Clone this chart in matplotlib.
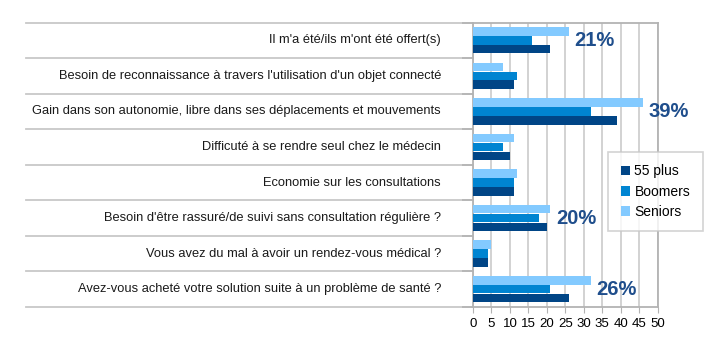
import matplotlib
matplotlib.use("Agg")
import numpy as np
import matplotlib.pyplot as plt

plt.rcParams['font.family'] = ['Liberation Sans', 'DejaVu Sans']

categories = [
    "Il m'a été/ils m'ont été offert(s)",
    "Besoin de reconnaissance à travers l'utilisation d'un objet connecté",
    "Gain dans son autonomie, libre dans ses déplacements et mouvements",
    "Difficuté à se rendre seul chez le médecin",
    "Economie sur les consultations",
    "Besoin d'être rassuré/de suivi sans consultation régulière ?",
    "Vous avez du mal à avoir un rendez-vous médical ?",
    "Avez-vous acheté votre solution suite à un problème de santé ?",
]
plus55 = [21, 11, 39, 10, 11, 20, 4, 26]
boomers = [16, 12, 32, 8, 11, 18, 4, 21]
seniors = [26, 8, 46, 11, 12, 21, 5, 32]
# highlighted percentages (index, label)
highlights = [(0, "21%"), (2, "39%"), (5, "20%"), (7, "26%")]

c55 = '#004586'
cboom = '#0084d1'
csen = '#83caff'
grid_c = '#cfcfcf'
axis_c = '#b3b3b3'

fig = plt.figure(figsize=(7.18, 3.51), dpi=100)
ax = fig.add_axes([473/718, 1-307/351, (657.5-473)/718, (307-22.5)/351])

y = np.arange(len(categories))
h = 0.24
ax.barh(y - 0.25, seniors, height=h, color=csen, label='Seniors', zorder=3)
ax.barh(y, boomers, height=h, color=cboom, label='Boomers', zorder=3)
ax.barh(y + 0.25, plus55, height=h, color=c55, label='55 plus', zorder=3)

ax.set_xlim(0, 50)
ax.set_ylim(len(categories) - 0.5, -0.5)
ax.set_xticks(np.arange(0, 51, 5))
ax.xaxis.grid(True, color=grid_c, lw=1.3, zorder=0)
ax.tick_params(axis='x', labelsize=9.5, length=4, color=axis_c, pad=4)

ax.set_yticks(np.arange(len(categories) + 1) - 0.5)
ax.set_yticklabels([])
ax.tick_params(axis='y', length=8, color=axis_c, width=1.2)

for s in ax.spines.values():
    s.set_color(axis_c)
    s.set_linewidth(1.3)

# category separator lines across the label area
tr = ax.get_yaxis_transform()
x0 = -(473 - 26) / (657.5 - 473)
for b in np.arange(len(categories) + 1) - 0.5:
    ax.plot([x0, 0], [b, b], transform=tr, color='#c8c8c8', lw=1.3, clip_on=False, zorder=1)

# category labels
for i, lab in enumerate(categories):
    ax.text(-(473 - 441) / (657.5 - 473), i, lab, transform=tr, ha='right', va='center',
            fontsize=9.3, color='#1a1a1a')

# highlighted values
for i, lab in highlights:
    top = max(plus55[i], boomers[i], seniors[i])
    ax.text(top + 1.5, i, lab, ha='left', va='center', fontsize=14.5,
            fontweight='bold', color='#1f4e8c', zorder=4)

handles, labels = ax.get_legend_handles_labels()
leg = fig.legend(handles[::-1], labels[::-1], loc='upper left',
                 bbox_to_anchor=(608/718, 1-152/351), fontsize=10,
                 frameon=True, fancybox=False, handlelength=0.7, handleheight=0.7,
                 handletextpad=0.3, labelspacing=0.45, borderpad=0.9,
                 borderaxespad=0)
leg.get_frame().set_edgecolor('#c8c8c8')
leg.get_frame().set_linewidth(1.2)

fig.savefig('out.png', dpi=100)
